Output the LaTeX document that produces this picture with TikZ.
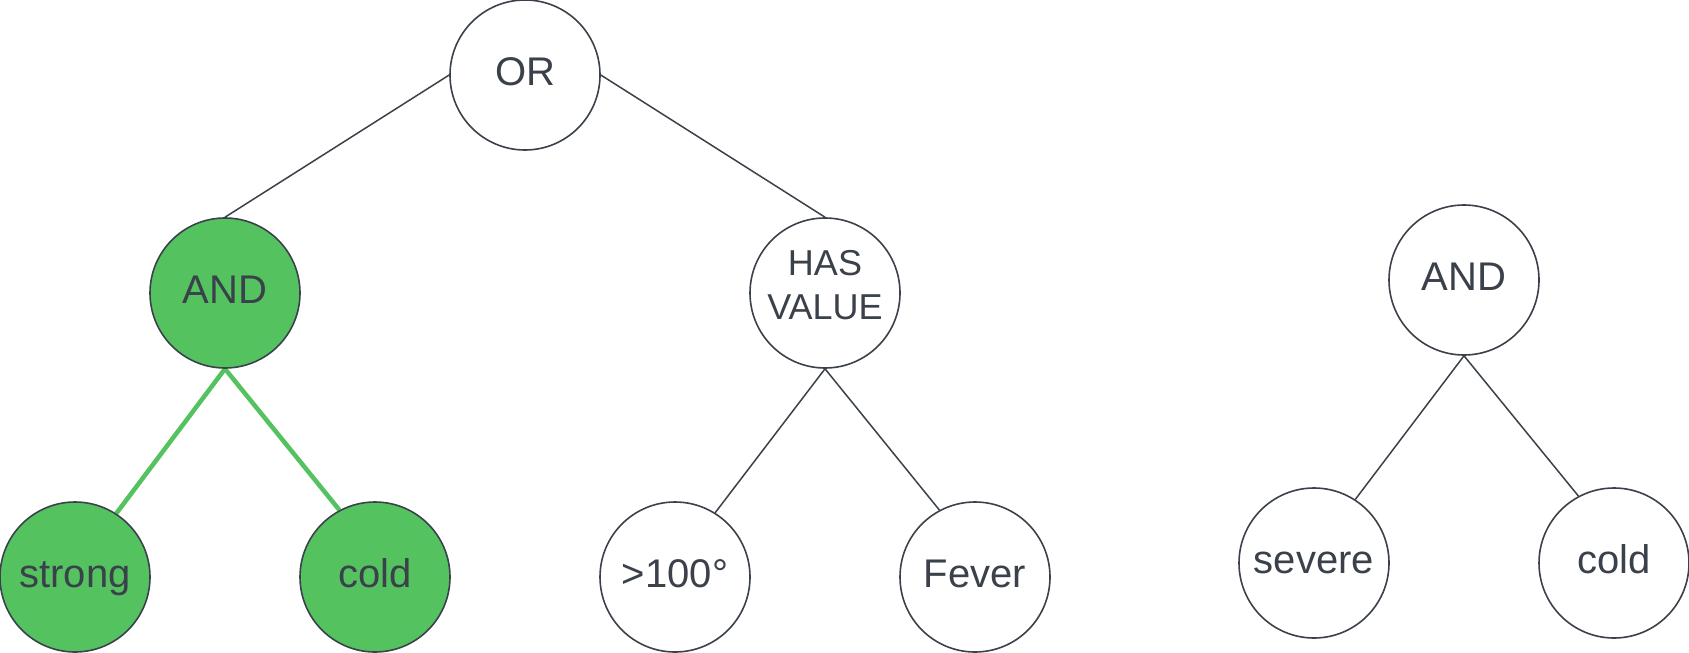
\documentclass[tikz,border=0pt]{standalone}
\usepackage{fontspec}
\setmainfont{Liberation Sans}
\usetikzlibrary{backgrounds}
\definecolor{ink}{HTML}{3A414A}
\definecolor{leafgreen}{RGB}{84,195,95}
\begin{document}
\begin{tikzpicture}[x=1pt,y=-1pt,
  circ/.style={circle, draw=ink, line width=1.6pt, fill=white, minimum size=150pt, inner sep=0pt,
    text=ink, font=\fontsize{40}{44}\selectfont, text height=29pt, text depth=9pt},
  lit/.style={circ, fill=leafgreen},
  edge/.style={draw=ink, line width=1.5pt},
  litedge/.style={draw=leafgreen, line width=4.5pt}]
\useasboundingbox (0,0) rectangle (1689,653);
\node[circ] (or) at (525,75) {OR};
\node[lit] (and) at (225,293) {AND};
\node[circ, text height=, text depth=] (hv) at (825,293)
  {\fontsize{36}{44}\selectfont\raisebox{0pt}[70pt][17pt]{\begin{tabular}[b]{@{}c@{}}HAS\\VALUE\end{tabular}}};
\node[lit] (strong) at (75,577) {strong};
\node[lit] (cold) at (375,577) {cold};
\node[circ] (gt) at (675,577) {>100°};
\node[circ] (fever) at (975,577) {Fever};
\node[circ] (and2) at (1464,280) {AND};
\node[circ] (severe) at (1314,563) {severe};
\node[circ] (cold2) at (1614,563) {cold};
\begin{scope}[on background layer]
\draw[edge] (or.west) -- (and.north);
\draw[edge] (or.east) -- (hv.north);
\draw[litedge] (and.south) -- (strong.57);
\draw[litedge] (and.south) -- (cold.118);
\draw[edge] (hv.south) -- (gt.58);
\draw[edge] (hv.south) -- (fever.118);
\draw[edge] (and2.south) -- (severe.57);
\draw[edge] (and2.south) -- (cold2.118);
\end{scope}
\end{tikzpicture}
\end{document}
